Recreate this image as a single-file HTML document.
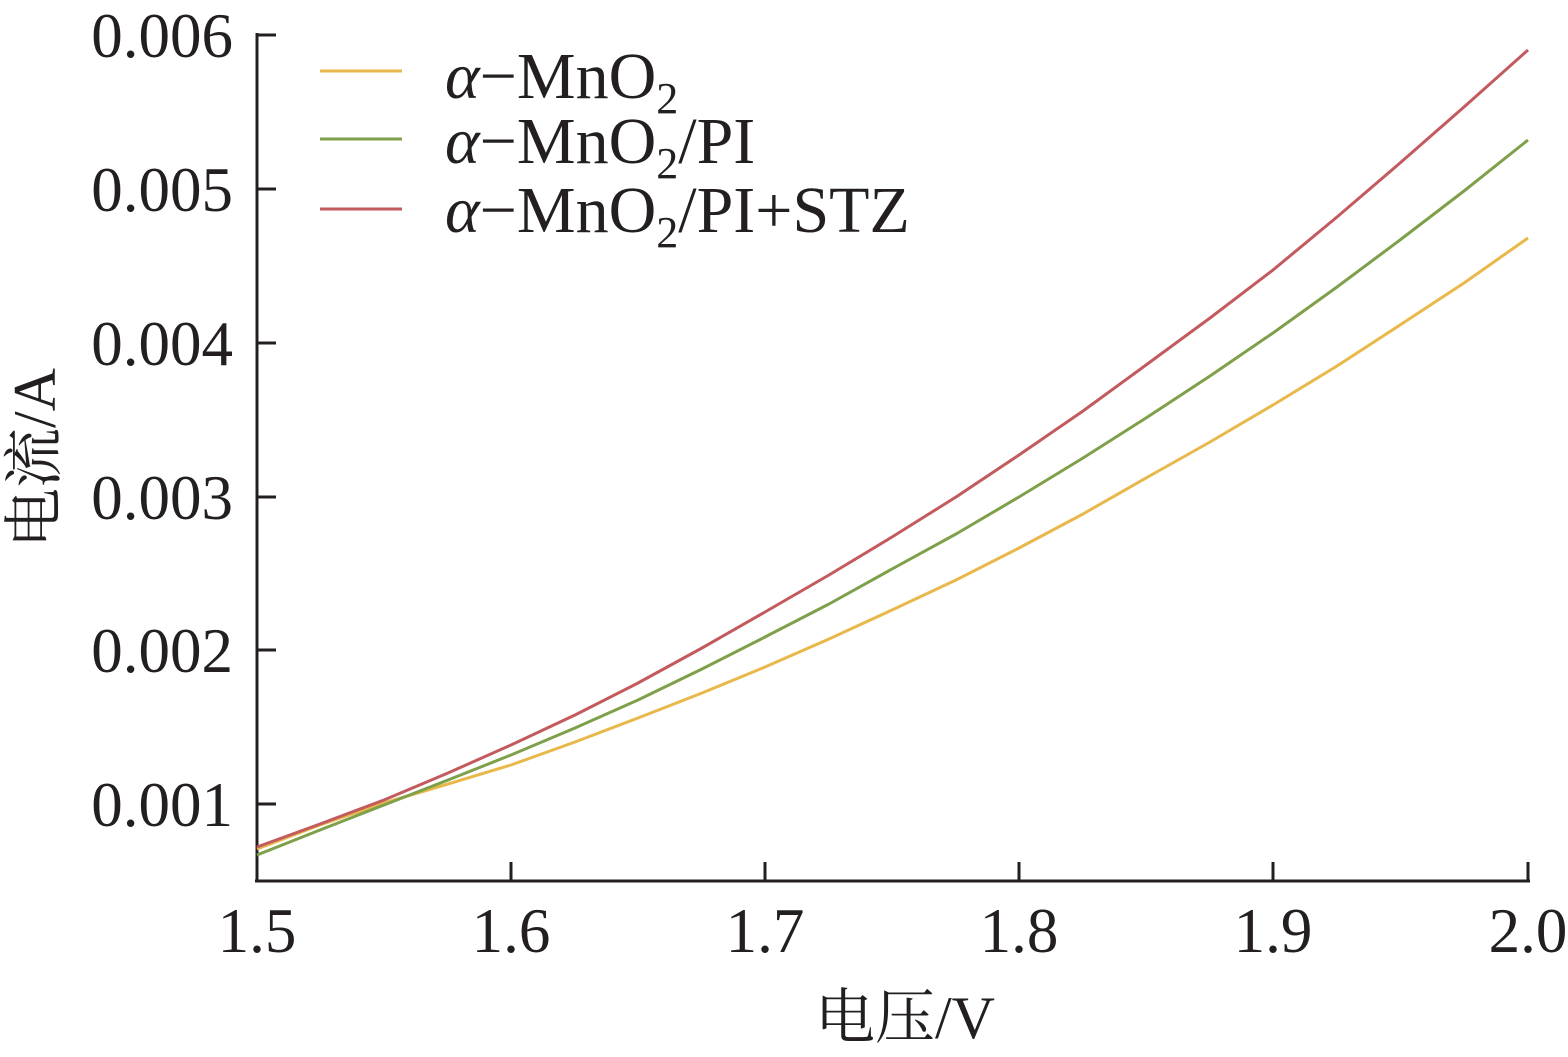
<!DOCTYPE html>
<html><head><meta charset="utf-8"><style>
html,body{margin:0;padding:0;background:#fff;}
svg text{font-family:"Liberation Serif","Noto Serif CJK SC",serif;fill:#231f20;}
</style></head><body>
<svg width="1568" height="1052" viewBox="0 0 1568 1052" xmlns="http://www.w3.org/2000/svg">
<g stroke="#231f20" stroke-width="3" fill="none">
<line x1="257" y1="33" x2="257" y2="882"/>
<line x1="255" y1="881" x2="1530" y2="881"/>
<line x1="257" y1="35" x2="276" y2="35"/>
<line x1="257" y1="189" x2="276" y2="189"/>
<line x1="257" y1="343" x2="276" y2="343"/>
<line x1="257" y1="497" x2="276" y2="497"/>
<line x1="257" y1="650" x2="276" y2="650"/>
<line x1="257" y1="804" x2="276" y2="804"/>
<line x1="511" y1="881" x2="511" y2="862"/>
<line x1="765" y1="881" x2="765" y2="862"/>
<line x1="1019" y1="881" x2="1019" y2="862"/>
<line x1="1273" y1="881" x2="1273" y2="862"/>
<line x1="1528" y1="881" x2="1528" y2="862"/>
</g>
<g font-size="63" text-anchor="end">
<text x="233" y="57">0.006</text>
<text x="233" y="211">0.005</text>
<text x="233" y="365">0.004</text>
<text x="233" y="519">0.003</text>
<text x="233" y="672">0.002</text>
<text x="233" y="826">0.001</text>
</g>
<g font-size="63" text-anchor="middle">
<text x="257" y="952">1.5</text>
<text x="511" y="952">1.6</text>
<text x="765" y="952">1.7</text>
<text x="1019" y="952">1.8</text>
<text x="1273" y="952">1.9</text>
<text x="1528" y="952">2.0</text>
</g>
<text x="905" y="1038" font-size="60" text-anchor="middle">电压/V</text>
<text transform="translate(55,458) rotate(-90)" font-size="60" text-anchor="middle">电流/A</text>
<g stroke-width="3" fill="none" stroke-linejoin="round">
<polyline stroke="#e8b84a" points="257,849 320,825 384,803 448,784 511,765 575,742 638,718 702,693 765,667 829,639 892,610 956,580 1019,548 1083,514 1146,478 1210,442 1273,405 1337,366 1400,325 1464,283 1528,238"/>
<polyline stroke="#7ea04a" points="257,855 320,830 384,805 448,780 511,755 575,728 638,700 702,669 765,637 829,604 892,569 956,534 1019,497 1083,458 1146,418 1210,376 1273,333 1337,287 1400,240 1464,191 1528,140"/>
<polyline stroke="#c35a5e" points="257,847 320,824 384,800 448,773 511,745 575,715 638,683 702,648 765,612 829,575 892,537 956,497 1019,455 1083,411 1146,365 1210,318 1273,270 1337,217 1400,163 1464,107 1528,50"/>
<line x1="320" y1="71" x2="402" y2="71" stroke="#e8b84a"/>
<line x1="320" y1="139" x2="402" y2="139" stroke="#7ea04a"/>
<line x1="320" y1="209" x2="402" y2="209" stroke="#c35a5e"/>
</g>
<g font-size="66">
<text x="445" y="98"><tspan font-style="italic">α</tspan>−MnO<tspan font-size="44" dy="15">2</tspan></text>
<text x="445" y="163"><tspan font-style="italic">α</tspan>−MnO<tspan font-size="44" dy="15">2</tspan><tspan dy="-15">/PI</tspan></text>
<text x="445" y="232"><tspan font-style="italic">α</tspan>−MnO<tspan font-size="44" dy="15">2</tspan><tspan dy="-15">/PI+STZ</tspan></text>
</g>
</svg>
</body></html>
